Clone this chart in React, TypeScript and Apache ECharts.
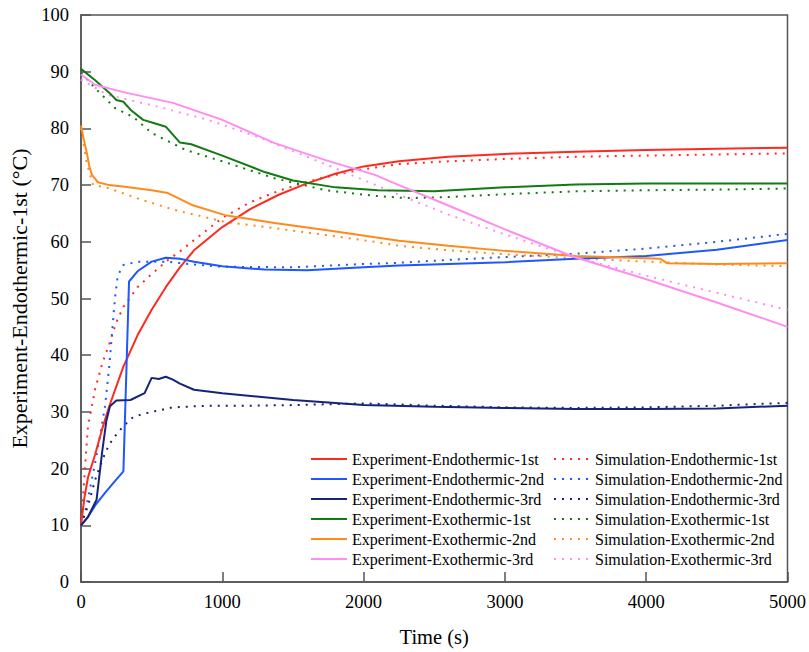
import React, { useEffect, useRef } from "react";
import * as echarts from "echarts";

// ---- data (time in s, temperature in °C) ----
const expEndo1T = [0, 25, 50, 100, 150, 200, 300, 400, 500, 600, 700, 800, 1000, 1200, 1400, 1600, 1800, 2000, 2250, 2600, 3000, 3500, 4000, 4500, 5000];
const expEndo1V = [10, 15, 18.5, 22.5, 27, 31, 38, 43.5, 48, 52, 55.5, 58.5, 62.6, 65.8, 68.3, 70.3, 72, 73.3, 74.2, 75, 75.5, 75.9, 76.2, 76.4, 76.6];

const simEndo1T = [0, 15, 30, 50, 100, 150, 200, 250, 300, 400, 500, 600, 700, 800, 1000, 1200, 1400, 1600, 1800, 2000, 2250, 2600, 3000, 3500, 4000, 4500, 5000];
const simEndo1V = [10, 15, 21, 27.5, 34, 38.5, 42, 45.8, 48.5, 52, 54.3, 56.5, 58.3, 60.3, 64.2, 67, 69, 70.6, 71.8, 72.8, 73.7, 74.2, 74.6, 75, 75.2, 75.4, 75.6];

const expEndo2T = [0, 50, 100, 170, 240, 300, 340, 400, 500, 600, 700, 800, 1000, 1300, 1600, 2000, 2250, 2600, 3000, 3500, 4000, 4500, 5000];
const expEndo2V = [10, 11.5, 13.5, 15.7, 17.8, 19.5, 53, 54.8, 56.5, 57.2, 57, 56.5, 55.7, 55.1, 55, 55.5, 55.8, 56.1, 56.4, 57, 57.5, 58.6, 60.3];

const simEndo2T = [0, 30, 60, 100, 140, 170, 200, 220, 240, 260, 300, 400, 600, 800, 1000, 1500, 2000, 2250, 2600, 3000, 3500, 4000, 4500, 5000];
const simEndo2V = [10, 12.5, 16, 21, 26.5, 31, 38, 44, 50, 54, 55.9, 56.5, 56.5, 56, 55.6, 55.5, 56.1, 56.3, 56.8, 57.3, 57.9, 58.8, 60, 61.4];

const expEndo3T = [0, 50, 110, 150, 180, 205, 250, 350, 450, 500, 550, 600, 650, 700, 800, 1000, 1500, 2000, 2500, 3000, 3500, 4000, 4500, 5000];
const expEndo3V = [10, 11.5, 14.5, 23, 28.5, 31, 32, 32.1, 33.3, 36, 35.8, 36.2, 35.7, 35, 33.9, 33.3, 32.1, 31.2, 30.9, 30.7, 30.5, 30.5, 30.6, 31.1];

const simEndo3T = [0, 50, 100, 150, 200, 250, 300, 360, 430, 500, 650, 900, 1200, 1500, 2000, 2500, 3000, 3500, 4000, 4500, 5000];
const simEndo3V = [10, 13.5, 18, 21.5, 24.3, 26, 27.5, 28.9, 29.6, 30, 30.8, 31.1, 31.1, 31.2, 31.5, 31.1, 30.8, 30.7, 30.8, 31.1, 31.6];

const expExo1T = [0, 100, 200, 250, 300, 350, 440, 520, 600, 700, 780, 1000, 1300, 1500, 1800, 2100, 2500, 3000, 3500, 4000, 4500, 5000];
const expExo1V = [90.5, 88.5, 86.3, 85, 84.7, 83.3, 81.5, 80.9, 80.3, 77.5, 77.2, 75.2, 72.3, 70.8, 69.6, 69.1, 68.9, 69.6, 70.1, 70.3, 70.3, 70.3];

const simExo1T = [0, 100, 240, 370, 500, 740, 1000, 1370, 1730, 2080, 2300, 2600, 3000, 3500, 4000, 4500, 5000];
const simExo1V = [89.8, 87.1, 83.6, 82, 79.2, 76.2, 74.2, 71.2, 69.1, 68.1, 67.7, 67.9, 68.4, 68.9, 69.1, 69.2, 69.4];

const expExo2T = [0, 20, 42, 60, 78, 120, 200, 310, 500, 615, 785, 1020, 1370, 1730, 2080, 2250, 2600, 3000, 3500, 4000, 4100, 4150, 4500, 5000];
const expExo2V = [80.5, 78, 75.6, 73.2, 71.8, 70.5, 70, 69.7, 69.1, 68.6, 66.5, 64.7, 63.3, 62.1, 60.8, 60.2, 59.3, 58.4, 57.5, 57.1, 57, 56.2, 56.1, 56.2];

const simExo2T = [0, 40, 85, 190, 430, 665, 1020, 1370, 1730, 2080, 2250, 2600, 3000, 3500, 4000, 4500, 5000];
const simExo2V = [80, 74, 70, 69.5, 67.4, 65.6, 63.5, 62.4, 61.2, 60, 59.3, 58.5, 57.8, 57.1, 56.5, 56, 55.7];

const expExo3T = [0, 100, 300, 650, 1000, 1370, 1730, 2080, 2250, 2600, 3000, 3480, 4000, 4500, 5000];
const expExo3V = [89.5, 87.7, 86.4, 84.5, 81.5, 77.4, 74.4, 71.8, 70, 66.4, 62.2, 57.4, 53.4, 49.3, 45];

const simExo3T = [0, 190, 550, 900, 1250, 1600, 2000, 2250, 2600, 3000, 3480, 4000, 4500, 5000];
const simExo3V = [88.6, 85.9, 83.8, 81.5, 78.5, 75, 70.9, 68.3, 64.8, 61.3, 57.4, 54, 51, 48];

const expNames = [
  "Experiment-Endothermic-1st",
  "Experiment-Endothermic-2nd",
  "Experiment-Endothermic-3rd",
  "Experiment-Exothermic-1st",
  "Experiment-Exothermic-2nd",
  "Experiment-Exothermic-3rd",
];
const simNames = [
  "Simulation-Endothermic-1st",
  "Simulation-Endothermic-2nd",
  "Simulation-Endothermic-3rd",
  "Simulation-Exothermic-1st",
  "Simulation-Exothermic-2nd",
  "Simulation-Exothermic-3rd",
];
const colors = ["#ff2a1f", "#1f56ff", "#15237a", "#127a12", "#ff8a1c", "#ff8cf2"];

const expData = [
  [expEndo1T, expEndo1V],
  [expEndo2T, expEndo2V],
  [expEndo3T, expEndo3V],
  [expExo1T, expExo1V],
  [expExo2T, expExo2V],
  [expExo3T, expExo3V],
];
const simData = [
  [simEndo1T, simEndo1V],
  [simEndo2T, simEndo2V],
  [simEndo3T, simEndo3V],
  [simExo1T, simExo1V],
  [simExo2T, simExo2V],
  [simExo3T, simExo3V],
];

const pairs = (t: number[], v: number[]) => t.map((x, i) => [x, v[i]]);
const FONT = "Liberation Serif";
const INK = "#000";

export default function App() {
  const ref = useRef<HTMLDivElement>(null);
  useEffect(() => {
    document.body.style.margin = "0";
    const chart = echarts.init(ref.current!, null, { renderer: "svg" });
    const series: any[] = [];
    expData.forEach(([t, v], i) => {
      series.push({
        name: expNames[i],
        type: "line",
        data: pairs(t, v),
        symbol: "none",
        showSymbol: false,
        smooth: false,
        color: colors[i],
        lineStyle: { width: 2, color: colors[i] },
        z: 3,
      });
    });
    simData.forEach(([t, v], i) => {
      series.push({
        name: simNames[i],
        type: "line",
        data: pairs(t, v),
        symbol: "none",
        showSymbol: false,
        smooth: false,
        color: colors[i],
        lineStyle: { width: 2, color: colors[i], type: [2, 6] },
        z: 2,
      });
    });
    const legendBase = {
      orient: "vertical",
      top: 451,
      padding: 0,
      itemWidth: 36,
      itemHeight: 14,
      itemGap: 4,
      itemStyle: { opacity: 0 },
      textStyle: { fontFamily: FONT, fontSize: 16, color: INK },
      selectedMode: false,
    };
    chart.setOption({
      animation: false,
      backgroundColor: "#ffffff",
      textStyle: { fontFamily: FONT },
      grid: {
        left: 81,
        right: 21,
        top: 15,
        bottom: 70,
        show: true,
        borderColor: "#555",
        borderWidth: 1.5,
        backgroundColor: "transparent",
      },
      legend: [
        { ...legendBase, left: 310, data: expNames },
        { ...legendBase, left: 553, data: simNames },
      ],
      xAxis: {
        type: "value",
        min: 0,
        max: 5000,
        interval: 1000,
        name: "Time (s)",
        nameLocation: "middle",
        nameGap: 44,
        nameTextStyle: { fontFamily: FONT, fontSize: 20.5, color: INK },
        axisLine: { show: true, lineStyle: { color: "#555", width: 1.5 } },
        axisTick: { show: true, inside: true, length: 10, lineStyle: { color: "#555", width: 1.5 } },
        axisLabel: {
          fontFamily: FONT,
          fontSize: 18.5,
          color: INK,
          margin: 10,
          formatter: (v: number) => String(v),
        },
        splitLine: { show: false },
      },
      yAxis: {
        type: "value",
        min: 0,
        max: 100,
        interval: 10,
        name: "Experiment-Endothermic-1st (°C)",
        nameLocation: "middle",
        nameGap: 47,
        nameTextStyle: { fontFamily: FONT, fontSize: 22, color: INK },
        axisLine: { show: true, lineStyle: { color: "#555", width: 1.5 } },
        axisTick: { show: true, inside: true, length: 10, lineStyle: { color: "#555", width: 1.5 } },
        axisLabel: { fontFamily: FONT, fontSize: 18.5, color: INK, margin: 12, formatter: (v: number) => String(v) },
        splitLine: { show: false },
      },
      series,
    });
    return () => chart.dispose();
  }, []);
  return <div ref={ref} style={{ width: 809, height: 652 }} />;
}
